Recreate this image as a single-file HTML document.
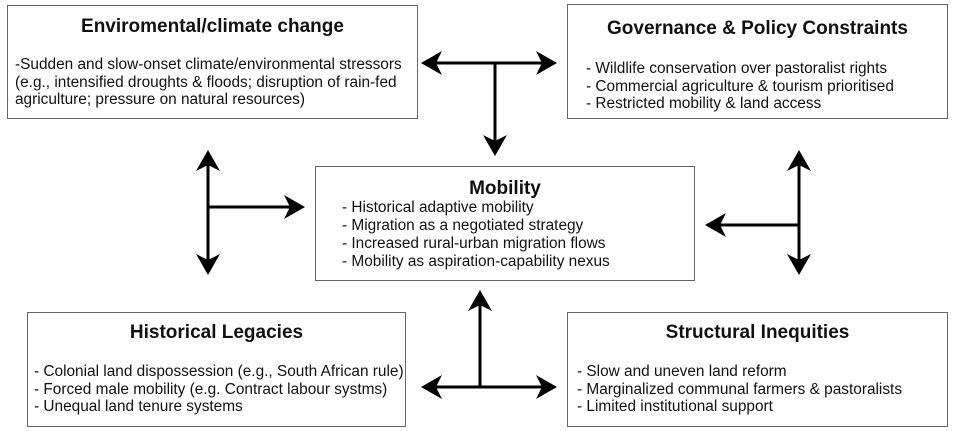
<!DOCTYPE html>
<html><head><meta charset="utf-8"><style>
body{margin:0;width:954px;height:431px;background:#fff;position:relative;overflow:hidden;font-family:"Liberation Sans",sans-serif;color:#111}
.box{position:absolute;border:1.3px solid #666;box-sizing:border-box;background:#fff}
.t{position:absolute;left:0;right:0;text-align:center;font-weight:bold;font-size:19px}
.b{position:absolute;font-size:15.4px;line-height:17.5px;white-space:nowrap}
svg{position:absolute;left:0;top:0}
</style></head><body>
<div class="box" style="left:7px;top:5px;width:411px;height:114px">
 <div class="t" style="top:10px">Enviromental/climate change</div>
 <div class="b" style="left:7px;top:50px">-Sudden and slow-onset climate/environmental stressors<br>(e.g., intensified droughts &amp; floods; disruption of rain-fed<br>agriculture; pressure on natural resources)</div>
</div>
<div class="box" style="left:567px;top:4px;width:381px;height:115px">
 <div class="t" style="top:13px">Governance &amp; Policy Constraints</div>
 <div class="b" style="left:18px;top:55px">- Wildlife conservation over pastoralist rights<br>- Commercial agriculture &amp; tourism prioritised<br>- Restricted mobility &amp; land access</div>
</div>
<div class="box" style="left:315px;top:166px;width:380px;height:115px">
 <div class="t" style="top:11px">Mobility</div>
 <div class="b" style="left:26px;top:32px;line-height:18px">- Historical adaptive mobility<br>- Migration as a negotiated strategy<br>- Increased rural-urban migration flows<br>- Mobility as aspiration-capability nexus</div>
</div>
<div class="box" style="left:27px;top:312px;width:379px;height:115px">
 <div class="t" style="top:9px">Historical Legacies</div>
 <div class="b" style="left:6px;top:50px">- Colonial land dispossession (e.g., South African rule)<br>- Forced male mobility (e.g. Contract labour systms)<br>- Unequal land tenure systems</div>
</div>
<div class="box" style="left:567px;top:312px;width:381px;height:115px">
 <div class="t" style="top:9px">Structural Inequities</div>
 <div class="b" style="left:9px;top:50px">- Slow and uneven land reform<br>- Marginalized communal farmers &amp; pastoralists<br>- Limited institutional support</div>
</div>
<svg width="954" height="431">
<defs><marker id="a" markerWidth="8" markerHeight="8" refX="6" refY="4" orient="auto-start-reverse" markerUnits="strokeWidth"><path d="M0,0 L7,4 L0,8 L2,4 Z" fill="#000"/></marker></defs>
<g stroke="#000" stroke-width="3" fill="none">
<line x1="424" y1="63" x2="554" y2="63" marker-start="url(#a)" marker-end="url(#a)"/>
<line x1="495" y1="63" x2="495" y2="153" marker-end="url(#a)"/>
<line x1="208" y1="153" x2="208" y2="272" marker-start="url(#a)" marker-end="url(#a)"/>
<line x1="208" y1="207" x2="302" y2="207" marker-end="url(#a)"/>
<line x1="799" y1="153" x2="799" y2="272" marker-start="url(#a)" marker-end="url(#a)"/>
<line x1="799" y1="225" x2="708" y2="225" marker-end="url(#a)"/>
<line x1="480" y1="387" x2="480" y2="293" marker-end="url(#a)"/>
<line x1="424" y1="387" x2="554" y2="387" marker-start="url(#a)" marker-end="url(#a)"/>
</g></svg>
</body></html>
